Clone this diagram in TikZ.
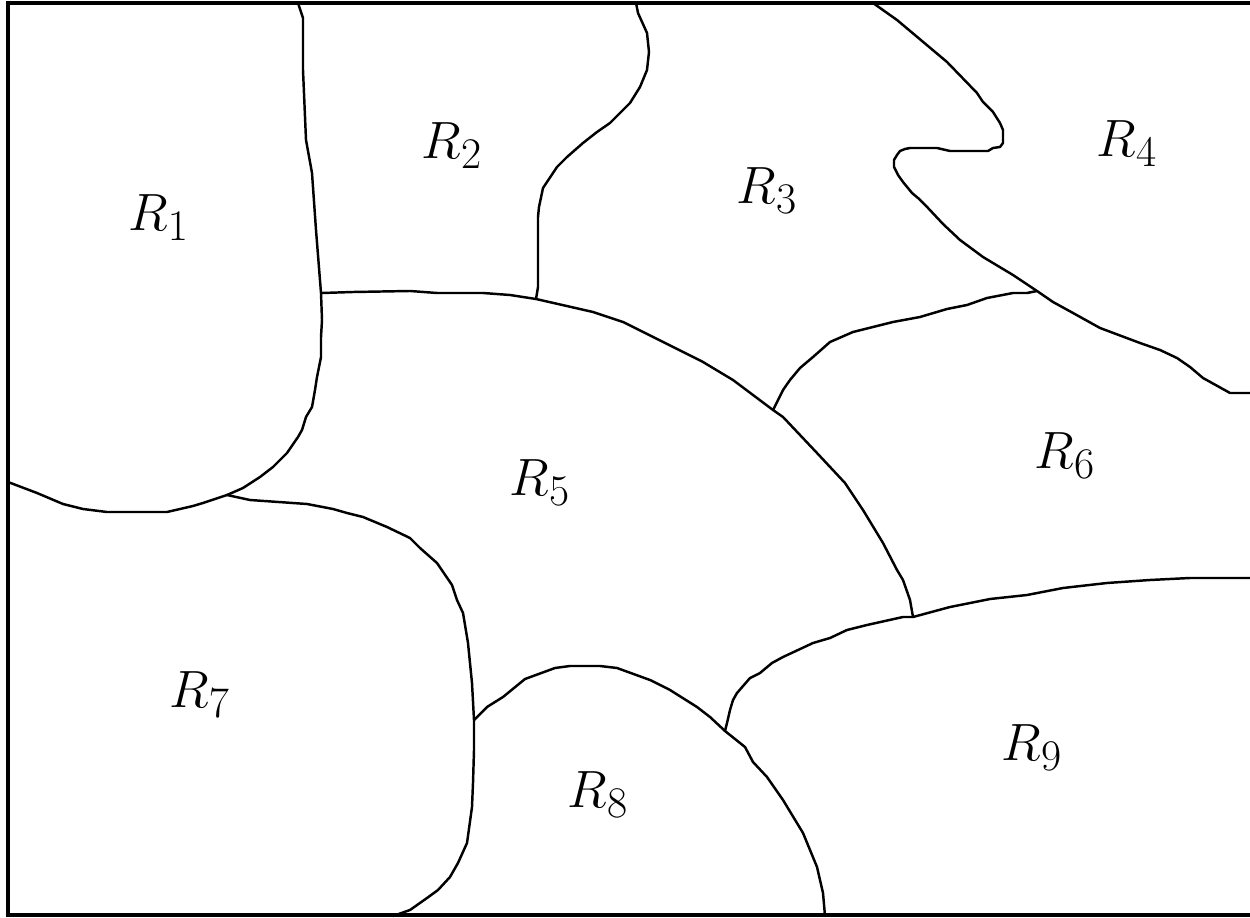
\documentclass[tikz,border=0pt]{standalone}
\newcommand{\lblbox}[1]{\scalebox{1.2}{\fontsize{24.88}{28}\selectfont$#1$}}
\begin{document}
\begin{tikzpicture}[x=0.02cm,y=-0.02cm,
  edge/.style={line width=1.4pt,line join=round,line cap=round},
  frame/.style={line width=1.8pt},
  lbl/.style={inner sep=0pt}]
\useasboundingbox (0,0) rectangle (1250,918);
\clip (0,0) rectangle (1250,918);
\draw[frame] (8,3) rectangle (1260,915);
% R1/R2 and R1/R5
\draw[edge] (298,3) -- (303,18) -- (303,70) -- (306,140) -- (312,173) -- (316,230) -- (321,293) -- (322,320) -- (321,337) -- (321,357) -- (317,377) -- (315,390) -- (312,407) -- (306,417) -- (302,430) -- (298,437) -- (287,453) -- (273,467) -- (260,477) -- (243,488) -- (227,495);
% R1/R7
\draw[edge] (227,495) -- (203,503) -- (193,506) -- (167,512) -- (107,512) -- (83,509) -- (63,504) -- (37,493) -- (8,482);
% R5/R7 and R7/R8
\draw[edge] (227,495) -- (250,500) -- (307,504) -- (333,509) -- (347,513) -- (363,517) -- (387,527) -- (410,538) -- (420,548) -- (437,563) -- (452,585) -- (457,600) -- (463,613) -- (468,643) -- (472,683) -- (474,720) -- (474,750) -- (473,783) -- (472,807) -- (467,843) -- (458,863) -- (450,877) -- (438,890) -- (427,898) -- (410,910) -- (393,916);
% R2/R5 top edge of R5
\draw[edge] (322,293) -- (353,292) -- (410,291) -- (437,293) -- (483,293) -- (510,295) -- (536,299) -- (593,312) -- (623,322) -- (663,342) -- (703,362) -- (733,380) -- (773,410) -- (783,417) -- (817,453) -- (845,483) -- (863,510) -- (883,543) -- (897,570) -- (903,580) -- (910,600) -- (913,617);
% R2/R3
\draw[edge] (636,3) -- (638,13) -- (647,33) -- (649,52) -- (647,70) -- (640,87) -- (630,103) -- (610,123) -- (597,132) -- (583,143) -- (567,157) -- (557,167) -- (543,188) -- (539,207) -- (538,217) -- (538,287) -- (536,299);
% R3/R6
\draw[edge] (773,410) -- (783,390) -- (790,380) -- (800,368) -- (813,357) -- (830,342) -- (853,332) -- (893,322) -- (920,317) -- (947,309) -- (967,305) -- (987,298) -- (1013,293) -- (1027,293) -- (1037,291);
% R3/R4 and R4/R6
\draw[edge] (873,3) -- (897,20) -- (947,62) -- (977,93) -- (983,102) -- (993,112) -- (1000,123) -- (1003,130) -- (1003,143) -- (1000,147) -- (993,148) -- (988,151) -- (950,151) -- (937,148) -- (910,148) -- (905,149) -- (900,151) -- (897,155) -- (894,160) -- (894,167) -- (898,175) -- (903,182) -- (912,193) -- (918,198) -- (928,208) -- (943,224) -- (960,240) -- (983,257) -- (1013,275) -- (1037,291) -- (1053,302) -- (1073,313) -- (1100,328) -- (1140,343) -- (1160,350) -- (1177,358) -- (1190,367) -- (1203,378) -- (1230,393) -- (1252,393);
% R5/R8 and R8/R9
\draw[edge] (474,720) -- (487,707) -- (503,697) -- (525,679) -- (555,668) -- (570,666) -- (600,666) -- (617,668) -- (650,680) -- (670,690) -- (697,707) -- (710,717) -- (725,731) -- (745,747) -- (753,762) -- (767,777) -- (783,800) -- (803,833) -- (817,867) -- (823,893) -- (825,916);
% R5/R9 and R6/R9
\draw[edge] (725,731) -- (727,723) -- (730,710) -- (733,700) -- (737,693) -- (750,678) -- (760,673) -- (772,663) -- (783,657) -- (813,643) -- (830,638) -- (847,630) -- (867,625) -- (903,617) -- (913,617) -- (950,607) -- (990,599) -- (1027,595) -- (1063,588) -- (1107,583) -- (1150,580) -- (1190,578) -- (1223,578) -- (1252,578);
% labels
\node[lbl] (r1) at (159,218) {\lblbox{R_1}};
\node[lbl] (r2) at (452,146) {\lblbox{R_2}};
\node[lbl] (r3) at (767,191) {\lblbox{R_3}};
\node[lbl] (r4) at (1127,144) {\lblbox{R_4}};
\node[lbl] (r5) at (540,483) {\lblbox{R_5}};
\node[lbl] (r6) at (1065,456) {\lblbox{R_6}};
\node[lbl] (r7) at (200,695) {\lblbox{R_7}};
\node[lbl] (r8) at (598,795) {\lblbox{R_8}};
\node[lbl] (r9) at (1032,748) {\lblbox{R_9}};
\end{tikzpicture}
\end{document}
